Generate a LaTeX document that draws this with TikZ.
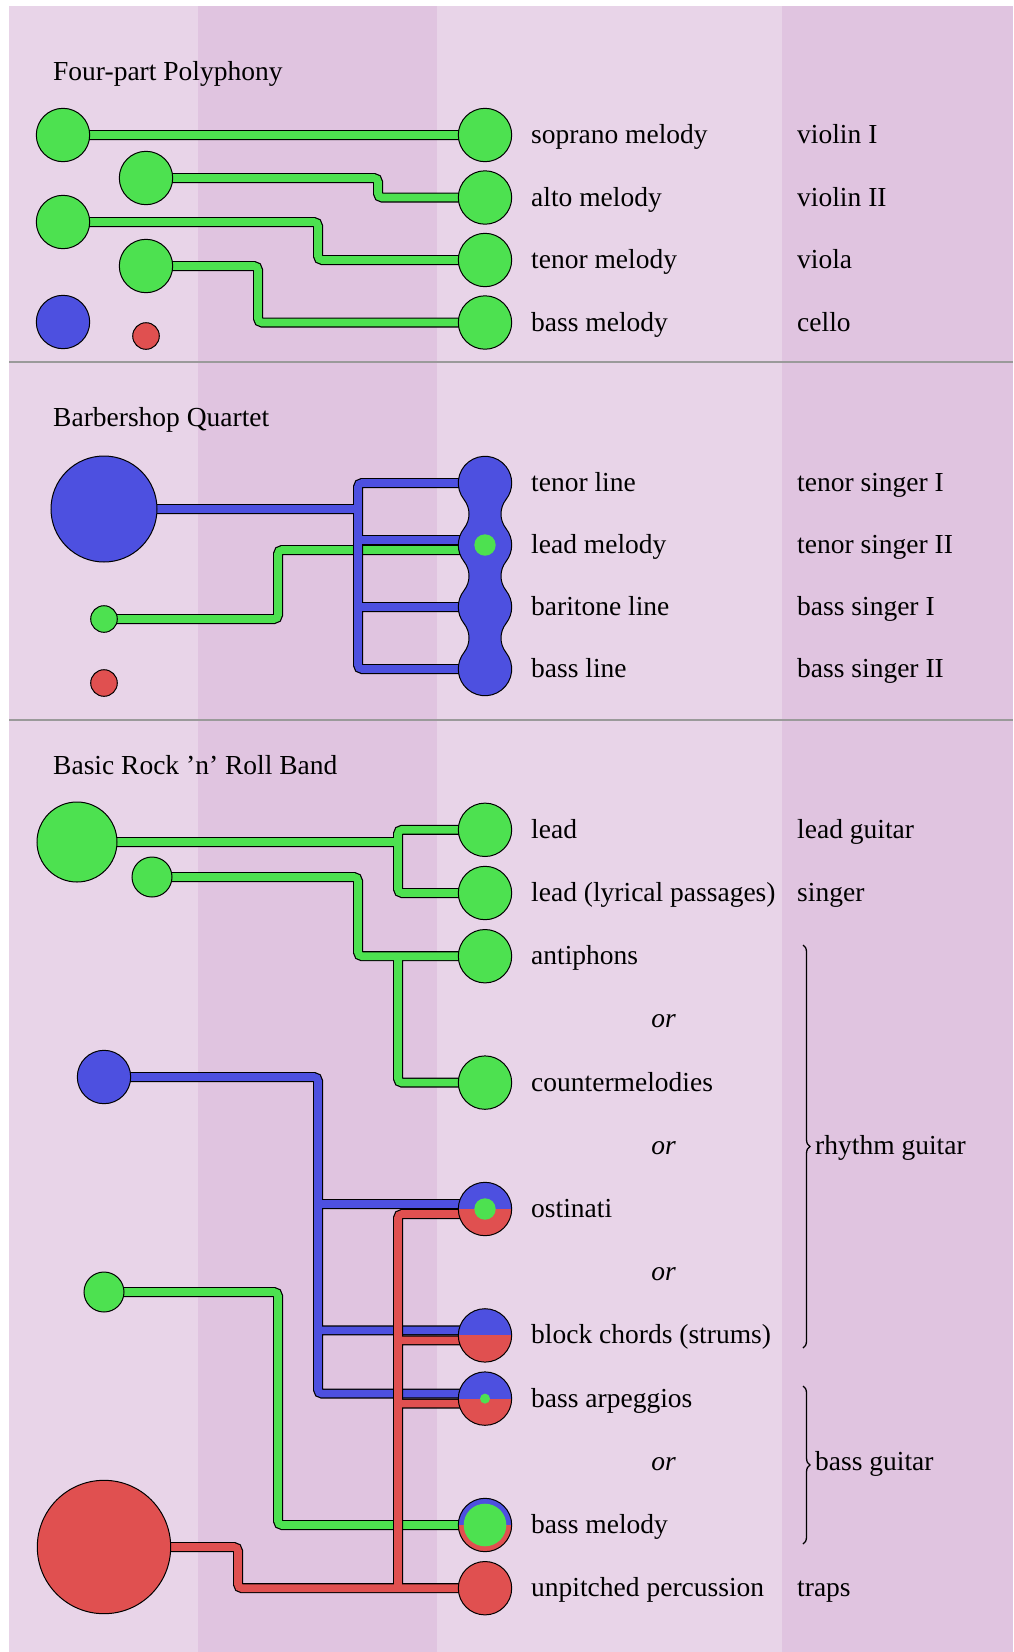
\documentclass[tikz,border=0pt]{standalone}
\usepackage{fontspec}
\setmainfont{Liberation Serif}
\usetikzlibrary{decorations.pathreplacing}
\definecolor{pinklight}{HTML}{E8D4E8}
\definecolor{pinkdark}{HTML}{E0C4E0}
\definecolor{vgreen}{HTML}{4DE150}
\definecolor{vblue}{HTML}{4D50E0}
\definecolor{vred}{HTML}{E05050}
\definecolor{rulegray}{HTML}{9A9A9A}
\pgfdeclarelayer{bg}
\pgfdeclarelayer{wires}
\pgfsetlayers{bg,wires,main}
\tikzset{
  lbl/.style={anchor=base west, inner sep=0pt, font=\fontsize{27.5}{32}\selectfont},
  ortxt/.style={anchor=base, inner sep=0pt, font=\fontsize{27.5}{32}\selectfont\itshape},
  voice/.style={circle, draw=black, line width=1pt, inner sep=0pt, minimum size=#1},
  voice/.default=53.4pt,
  gvoice/.style={voice=#1, fill=vgreen},
  gvoice/.default=53.4pt,
  bvoice/.style={voice=#1, fill=vblue},
  bvoice/.default=53.4pt,
  rvoice/.style={voice=#1, fill=vred},
  rvoice/.default=53.4pt,
  splitvoice/.style={voice, fill=vred,
    path picture={\fill[vblue] (path picture bounding box.north west)
      rectangle (path picture bounding box.east);}},
  gdot/.style={circle, fill=vgreen, inner sep=0pt, minimum size=#1},
  net/.style={draw=#1, line width=7.6pt, rounded corners=4pt,
    preaction={draw=black, line width=10pt}},
  grouping/.style={decorate, decoration={brace, amplitude=7pt}, line width=1.3pt},
}
\begin{document}
\begin{tikzpicture}[x=1pt, y=1pt, yscale=-1]
\useasboundingbox (0,0) rectangle (1013,1652);

% ---------- background columns and section rules ----------
\begin{pgfonlayer}{bg}
  \fill[white] (0,0) rectangle (1013,1652);
  \fill[pinklight] (9,6) rectangle (198,1652);
  \fill[pinkdark] (198,6) rectangle (437,1652);
  \fill[pinklight] (437,6) rectangle (782,1652);
  \fill[pinkdark] (782,6) rectangle (1013,1652);
  \draw[rulegray, line width=1.4pt] (9,362) -- (1013,362);
  \draw[rulegray, line width=1.4pt] (9,720) -- (1013,720);
\end{pgfonlayer}

% ================= Four-part Polyphony =================
\node[lbl] (title1) at (53,80) {Four-part Polyphony};

\node[gvoice] (p1s) at (63,135) {};
\node[gvoice] (p2s) at (146,178) {};
\node[gvoice] (p3s) at (63,222) {};
\node[gvoice] (p4s) at (146,266) {};
\node[bvoice] (p5s) at (63,322) {};
\node[rvoice=26.6pt] (p6s) at (146,336) {};

\node[gvoice] (p1) at (485,135) {};
\node[gvoice] (p2) at (485,197.5) {};
\node[gvoice] (p3) at (485,260) {};
\node[gvoice] (p4) at (485,322.5) {};

\node[lbl] (p1l) at (531,143.5) {soprano melody};
\node[lbl] (p2l) at (531,206) {alto melody};
\node[lbl] (p3l) at (531,268.5) {tenor melody};
\node[lbl] (p4l) at (531,331) {bass melody};
\node[lbl] (p1i) at (797,143.5) {violin I};
\node[lbl] (p2i) at (797,206) {violin II};
\node[lbl] (p3i) at (797,268.5) {viola};
\node[lbl] (p4i) at (797,331) {cello};

\begin{pgfonlayer}{wires}
  \draw[net=vgreen]
    (p1s.center) -- (p1.center)
    (p2s.center) -| (378,197.5) -- (p2.center)
    (p3s.center) -| (318,260) -- (p3.center)
    (p4s.center) -| (258,322.5) -- (p4.center);
\end{pgfonlayer}

% ================= Barbershop Quartet =================
\node[lbl] (title2) at (53,426) {Barbershop Quartet};

\node[bvoice=106pt] (q1s) at (104,509) {};
\node[gvoice=26.6pt] (q2s) at (104,619) {};
\node[rvoice=26.6pt] (q3s) at (104,683) {};

\coordinate (q1) at (485,483);
\coordinate (q2) at (485,545);
\coordinate (q3) at (485,607);
\coordinate (q4) at (485,669);

% four voices fused into one body
\draw[fill=vblue, line width=1pt]
  (q1) ++(141.91:26.7pt)
  arc[start angle=141.91, end angle=398.09, radius=26.7pt]
  arc[start angle=218.09, end angle=141.91, radius=23.557pt]
  arc[start angle=-38.09, end angle=38.09, radius=26.7pt]
  arc[start angle=218.09, end angle=141.91, radius=23.557pt]
  arc[start angle=-38.09, end angle=38.09, radius=26.7pt]
  arc[start angle=218.09, end angle=141.91, radius=23.557pt]
  arc[start angle=-38.09, end angle=218.09, radius=26.7pt]
  arc[start angle=38.09, end angle=-38.09, radius=23.557pt]
  arc[start angle=141.91, end angle=218.09, radius=26.7pt]
  arc[start angle=38.09, end angle=-38.09, radius=23.557pt]
  arc[start angle=141.91, end angle=218.09, radius=26.7pt]
  arc[start angle=38.09, end angle=-38.09, radius=23.557pt]
  -- cycle;
\node[gdot=21.4pt] (q2dot) at (q2) {};

\node[lbl] (q1l) at (531,491.5) {tenor line};
\node[lbl] (q2l) at (531,553.5) {lead melody};
\node[lbl] (q3l) at (531,615.5) {baritone line};
\node[lbl] (q4l) at (531,677.5) {bass line};
\node[lbl] (q1i) at (797,491.5) {tenor singer I};
\node[lbl] (q2i) at (797,553.5) {tenor singer II};
\node[lbl] (q3i) at (797,615.5) {bass singer I};
\node[lbl] (q4i) at (797,677.5) {bass singer II};

\begin{pgfonlayer}{wires}
  \draw[net=vgreen]
    (q2s.center) -| (278,550) -- (485,550);
  \draw[net=vblue]
    (q1s.center) -- (358,509)
    (q1) -- (358,483) -- (358,669) -- (q4)
    (358,540) -- (485,540)
    (358,607) -- (q3);
\end{pgfonlayer}

% ================= Basic Rock 'n' Roll Band =================
\node[lbl] (title3) at (53,774) {Basic Rock 'n' Roll Band};

\node[gvoice=80pt] (r1s) at (77,842) {};
\node[gvoice=40pt] (r2s) at (152,877) {};
\node[bvoice] (r3s) at (104,1077) {};
\node[gvoice=40pt] (r4s) at (104,1292) {};
\node[rvoice=133.4pt] (r5s) at (104,1547) {};

\node[gvoice] (lead) at (485,829.8) {};
\node[gvoice] (lyric) at (485,893) {};
\node[gvoice] (anti) at (485,956.2) {};
\node[gvoice] (counter) at (485,1082.6) {};
\node[splitvoice] (ost) at (485,1209) {};
\node[gdot=21.4pt] (ostdot) at (ost) {};
\node[splitvoice] (block) at (485,1335.4) {};
\node[splitvoice] (arp) at (485,1398.6) {};
\node[gdot=10pt] (arpdot) at (arp) {};
\node[splitvoice] (bmel) at (485,1525) {};
\node[gdot=42.6pt] (bmeldot) at (bmel) {};
\node[rvoice] (perc) at (485,1588.2) {};

\node[lbl] (leadl) at (531,838.3) {lead};
\node[lbl] (lyricl) at (531,901.5) {lead (lyrical passages)};
\node[lbl] (antil) at (531,964.7) {antiphons};
\node[ortxt] (or1) at (663.5,1027.9) {or};
\node[lbl] (counterl) at (531,1091.1) {countermelodies};
\node[ortxt] (or2) at (663.5,1154.3) {or};
\node[lbl] (ostl) at (531,1217.5) {ostinati};
\node[ortxt] (or3) at (663.5,1280.7) {or};
\node[lbl] (blockl) at (531,1343.9) {block chords (strums)};
\node[lbl] (arpl) at (531,1407.1) {bass arpeggios};
\node[ortxt] (or4) at (663.5,1470.3) {or};
\node[lbl] (bmell) at (531,1533.5) {bass melody};
\node[lbl] (percl) at (531,1596.7) {unpitched percussion};

\node[lbl] (leadi) at (797,838.3) {lead guitar};
\node[lbl] (lyrici) at (797,901.5) {singer};
\node[lbl] (rhythmi) at (815,1154.3) {rhythm guitar};
\node[lbl] (bassi) at (815,1470.3) {bass guitar};
\node[lbl] (perci) at (797,1596.7) {traps};

\draw[grouping] (803,945) -- (803,1348);
\draw[grouping] (803,1386) -- (803,1544);

\begin{pgfonlayer}{wires}
  \draw[net=vgreen]
    (r1s.center) -- (398,842)
    (lead.center) -- (398,829.8) -- (398,893) -- (lyric.center)
    (r2s.center) -| (358,956.2) -- (anti.center)
    (398,956.2) |- (counter.center)
    (r4s.center) -| (278,1525) -- (bmel.center);
  \draw[net=vblue]
    (r3s.center) -| (318,1393.6) -- (485,1393.6)
    (318,1204) -- (485,1204)
    (318,1330.4) -- (485,1330.4);
  \draw[net=vred]
    (485,1214) -- (398,1214) -- (398,1588.2)
    (398,1340.4) -- (485,1340.4)
    (398,1403.6) -- (485,1403.6)
    (r5s.center) -| (238,1588.2) -- (perc.center);
\end{pgfonlayer}
\end{tikzpicture}
\end{document}
